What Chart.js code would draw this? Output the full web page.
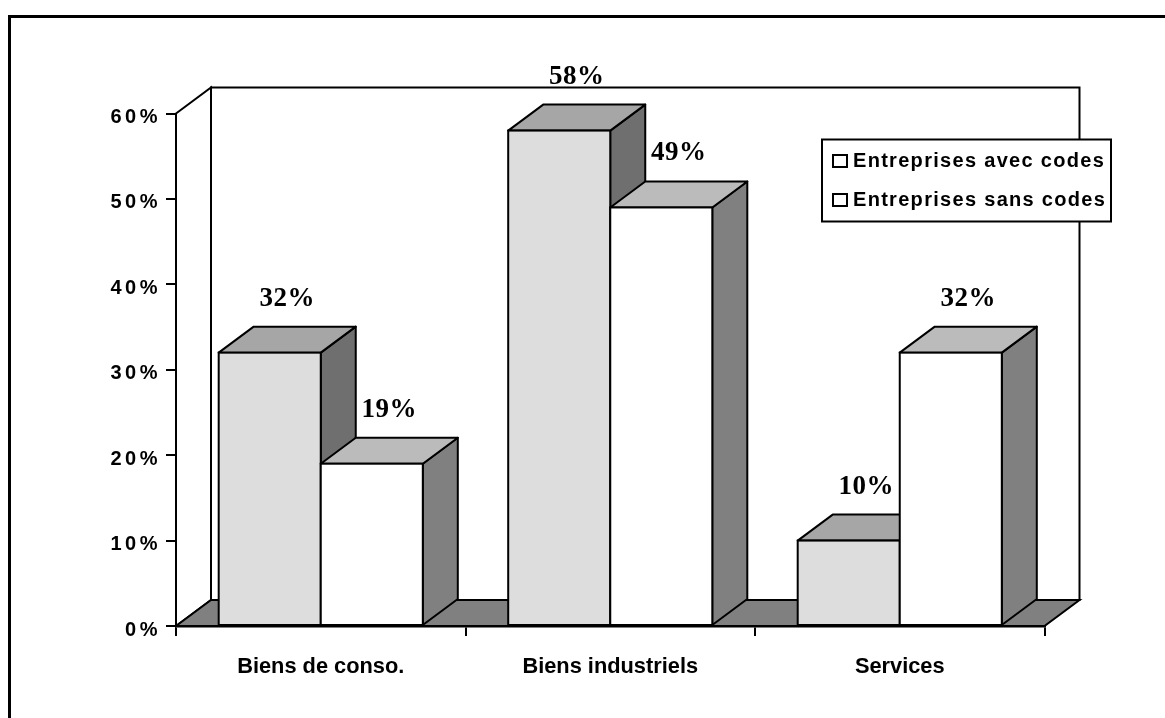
<!DOCTYPE html>
<html>
<head>
<meta charset="utf-8">
<style>
html,body{margin:0;padding:0;background:#fff;}
#wrap{position:absolute;left:0;top:0;width:1165px;height:718px;}
canvas{display:block;}
</style>
<script src="https://cdn.jsdelivr.net/npm/chart.js@4"></script>
</head>
<body>
<div id="wrap"><canvas id="c" width="1165" height="718"></canvas></div>
<script>
const categories = ["Biens de conso.", "Biens industriels", "Services"];
const seriesNames = ["Entreprises avec codes", "Entreprises sans codes"];
const avecCodes = [32, 58, 10];
const sansCodes = [19, 49, 32];
const yTicks = [0, 10, 20, 30, 40, 50, 60];

const DEPTH_X = 35, DEPTH_Y = 26;
const LINE = 2;
const faceColors = [
  {front:"#DDDDDD", top:"#A6A6A6", side:"#6F6F6F"},
  {front:"#FFFFFF", top:"#BBBBBB", side:"#808080"}
];

function poly(ctx, pts, fill){
  ctx.beginPath();
  pts.forEach((p,i)=> i ? ctx.lineTo(p[0],p[1]) : ctx.moveTo(p[0],p[1]));
  ctx.closePath();
  if(fill){ctx.fillStyle=fill;ctx.fill();}
  ctx.stroke();
}

const scene3d = {
  id:"scene3d",
  afterLayout(chart){
    const l = chart.legend;
    const pad = l.options.labels.padding;
    l.left = 833 - pad; l.right = 1110; l.width = l.right - l.left;
    l.top = 151 - pad; l.bottom = 300; l.height = l.bottom - l.top;
    if(!chart.$patched){
      chart.$patched = true;
      const ctx = chart.ctx;
      const yS = chart.scales.y, od = yS.drawLabels;
      yS.drawLabels = function(a){
        ctx.save();ctx.letterSpacing="3.5px";ctx.translate(-1,4);
        od.call(this,a);
        ctx.restore();
      };
      const ol = l.draw;
      l.draw = function(){
        ctx.save();ctx.letterSpacing="1.3px";
        const ft = ctx.fillText;
        ctx.fillText = function(t,x,y,m){ft.call(ctx,t,x-4,y,m);};
        ol.call(this);
        delete ctx.fillText;
        ctx.restore();
      };
    }
  },
  beforeDraw(chart){
    const ctx = chart.ctx, a = chart.chartArea;
    ctx.save();
    ctx.fillStyle="#fff";ctx.fillRect(0,0,chart.width,chart.height);
    // outer frame, open to the right and bottom of the picture
    ctx.fillStyle="#000";
    ctx.fillRect(8,15,chart.width-8,3);
    ctx.fillRect(8,15,3,chart.height-15);
    ctx.strokeStyle="#000";ctx.lineWidth=LINE;ctx.lineJoin="miter";
    const dx=DEPTH_X, dy=DEPTH_Y;
    // walls
    poly(ctx,[[a.left,a.top],[a.left+dx,a.top-dy],[a.left+dx,a.bottom-dy],[a.left,a.bottom]],"#fff");
    poly(ctx,[[a.left+dx,a.top-dy],[a.right+dx,a.top-dy],[a.right+dx,a.bottom-dy],[a.left+dx,a.bottom-dy]],"#fff");
    // floor
    poly(ctx,[[a.left,a.bottom],[a.left+dx,a.bottom-dy],[a.right+dx,a.bottom-dy],[a.right,a.bottom]],"#808080");
    // legend frame
    ctx.fillStyle="#fff";
    ctx.beginPath();ctx.rect(822,139.5,289,82);ctx.fill();ctx.stroke();
    ctx.restore();
  },
  // Series are painted left to right so the right bar covers its neighbour's side face.
  beforeDatasetsDraw(chart){
    const ctx=chart.ctx;
    chart.data.datasets.forEach((ds,i)=>{
      const meta=chart.getDatasetMeta(i), c=faceColors[i];
      ctx.save();
      ctx.strokeStyle="#000";ctx.lineWidth=LINE;ctx.lineJoin="round";
      meta.data.forEach(b=>{
        const {x,y,base,width}=b.getProps(["x","y","base","width"],true);
        const l=x-width/2,r=x+width/2;
        poly(ctx,[[r,y],[r+DEPTH_X,y-DEPTH_Y],[r+DEPTH_X,base-DEPTH_Y],[r,base]],c.side);
        poly(ctx,[[l,y],[l+DEPTH_X,y-DEPTH_Y],[r+DEPTH_X,y-DEPTH_Y],[r,y]],c.top);
      });
      ctx.restore();
      meta.controller.draw();
      ctx.save();
      ctx.strokeStyle="#000";ctx.lineWidth=LINE;
      meta.data.forEach(b=>{
        const {x,y,base,width}=b.getProps(["x","y","base","width"],true);
        ctx.strokeRect(x-width/2,y,width,base-y);
      });
      ctx.restore();
    });
  },
  beforeDatasetDraw(){ return false; },
  afterDatasetsDraw(chart){
    const ctx=chart.ctx;
    ctx.save();
    ctx.fillStyle="#000";
    ctx.font='bold 27px "Liberation Serif"';
    ctx.letterSpacing="0.5px";
    ctx.textAlign="center";ctx.textBaseline="middle";
    chart.data.datasets.forEach((ds,i)=>{
      chart.getDatasetMeta(i).data.forEach((b,j)=>{
        const {x,y}=b.getProps(["x","y"],true);
        ctx.fillText(ds.data[j]+"%",x+DEPTH_X/2,y-54);
      });
    });
    ctx.restore();
  }
};

new Chart(document.getElementById("c"),{
  type:"bar",
  data:{
    labels:categories,
    datasets:[
      {label:seriesNames[0],data:avecCodes,backgroundColor:faceColors[0].front},
      {label:seriesNames[1],data:sansCodes,backgroundColor:faceColors[1].front}
    ]
  },
  options:{
    responsive:false,
    animation:false,
    layout:{padding:{left:0,right:120.5,top:113.5,bottom:0}},
    datasets:{bar:{categoryPercentage:0.705,barPercentage:1,borderWidth:0}},
    scales:{
      x:{
        z:1,
        afterFit(s){s.height=92;},
        grid:{display:true,drawOnChartArea:false,drawTicks:true,tickLength:10,color:"#000",lineWidth:LINE,offset:true},
        border:{display:true,color:"#000",width:2.5},
        ticks:{color:"#000",font:{family:'"Liberation Sans"',weight:"bold",size:21.8},padding:18,maxRotation:0}
      },
      y:{
        z:1,
        min:0,max:60,
        afterFit(s){s.width=176;},
        afterBuildTicks(s){s.ticks=yTicks.map(v=>({value:v}));},
        grid:{display:true,drawOnChartArea:false,drawTicks:true,tickLength:10,color:"#000",lineWidth:LINE},
        border:{display:true,color:"#000",width:LINE},
        ticks:{color:"#000",font:{family:'"Liberation Sans"',weight:"bold",size:20},padding:4,callback:v=>v+"%"}
      }
    },
    plugins:{
      title:{display:false},
      tooltip:{enabled:false},
      legend:{
        display:true,
        position:"chartArea",
        align:"start",
        labels:{
          color:"#000",
          font:{family:'"Liberation Sans"',weight:"bold",size:20},
          boxWidth:14,boxHeight:12,padding:19,
          generateLabels(chart){
            return chart.data.datasets.map((d,i)=>({text:d.label,fillStyle:"#fff",strokeStyle:"#000",lineWidth:LINE,datasetIndex:i,fontColor:"#000"}));
          }
        }
      }
    }
  },
  plugins:[scene3d]
});
</script>
</body>
</html>
